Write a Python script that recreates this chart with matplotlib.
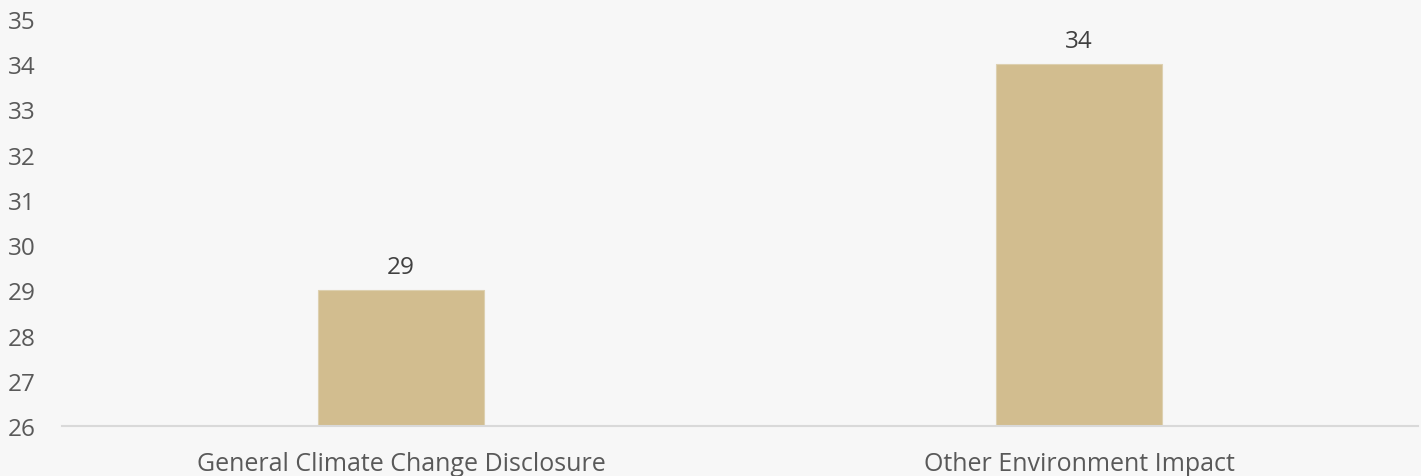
import matplotlib
matplotlib.use("Agg")
from matplotlib import pyplot as plt

categories = ["General Climate Change Disclosure", "Other Environment Impact"]
values = [29, 34]
y_ticks = [26, 27, 28, 29, 30, 31, 32, 33, 34, 35]

plt.rcParams['font.family'] = ['Open Sans', 'DejaVu Sans']

bg = "#f7f7f7"
fig = plt.figure(figsize=(14.21, 4.77), dpi=100, facecolor=bg)
ax = fig.add_axes([62/1421, 50/477, (1418-62)/1421, (427-20)/477])
ax.set_facecolor(bg)

x = range(len(categories))
bars = ax.bar(x, values, width=0.245, color="#d2bd8f", edgecolor="#ddd0b0", linewidth=0.8, zorder=2)

for xi, v in zip(x, values):
    ax.annotate(str(v), (xi, v), xytext=(0, 8), textcoords="offset points",
                ha="center", va="bottom", fontsize=17.5, color="#404040")

ax.set_xlim(-0.5, 1.5)
ax.set_ylim(26, 35)
ax.set_yticks(y_ticks)
ax.set_xticks(list(x))
ax.set_xticklabels(categories)
ax.tick_params(axis="y", length=0, pad=19, labelsize=17.5, labelcolor="#595959")
ax.tick_params(axis="x", length=0, pad=18, labelsize=18, labelcolor="#595959")

for s in ["top", "right", "left"]:
    ax.spines[s].set_visible(False)
ax.spines["bottom"].set_color("#d9d9d9")
ax.spines["bottom"].set_linewidth(1.5)

fig.savefig("out.png", dpi=100, facecolor=bg)
